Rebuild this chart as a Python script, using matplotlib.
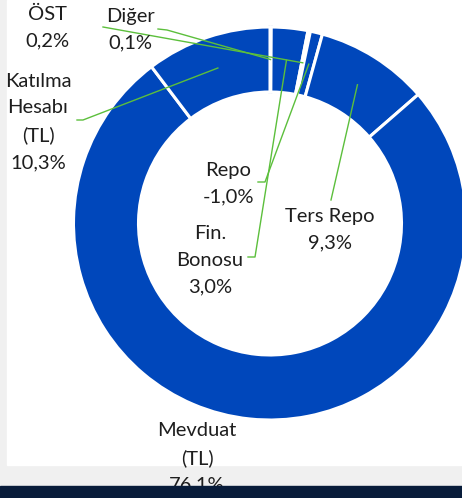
import numpy as np
import matplotlib.pyplot as plt
from matplotlib.patches import Rectangle

plt.rcParams['font.family'] = ['Lato', 'DejaVu Sans']

# data (clockwise from 12 o'clock)
names = ["Diğer", "Fin.\nBonosu", "ÖST", "Repo", "Ters Repo", "Mevduat\n(TL)", "Katılma\nHesabı\n(TL)"]
shares = [0.1, 3.0, 0.2, -1.0, 9.3, 76.1, 10.3]

blue = '#0047BB'
green = '#5CBF3C'
txt_col = '#1E1E1E'

W, H = 462, 498
fig = plt.figure(figsize=(W / 100, H / 100), dpi=100)
ax = fig.add_axes([0, 0, 1, 1])

def py(y):
    # pixel row -> data y
    return H - y

cx, cy = 270, py(223.5)
R, ring = 196.5, 65

# excel draws negative shares by their size
wedges, _ = ax.pie(np.abs(shares), radius=R, center=(cx, cy), startangle=90,
                   counterclock=False, colors=[blue] * len(shares),
                   wedgeprops=dict(width=ring, edgecolor='white', linewidth=2.2))
for w in wedges:
    w.set_zorder(2)
wedges[0].set_edgecolor('#C8D3EA')

ax.set_xlim(0, W)
ax.set_ylim(0, H)
ax.set_aspect('equal')
ax.axis('off')

# backgrounds
ax.add_patch(Rectangle((0, 0), W, H, color='#F0F0F0', zorder=0))
ax.add_patch(Rectangle((7, py(465)), W - 7, 465, color='white', zorder=0.5))
ax.add_patch(Rectangle((0, 0), W, py(486), color='#081C3A', zorder=10))

def mid_point(w):
    a = np.deg2rad((w.theta1 + w.theta2) / 2)
    r = R - ring / 2
    return cx + r * np.cos(a), cy + r * np.sin(a)

# label centre, leader start (pixel coords), optional short tail
layout = {
    "Diğer": ((130, 30), [(158, 29), (167, 30)]),
    "Fin.\nBonosu": ((210, 260), [(248, 257), (255, 257)]),
    "ÖST": ((47, 28), [(103, 27)]),
    "Repo": ((228, 184), [(258, 182), (265, 182)]),
    "Ters Repo": ((330, 230), [(331, 200)]),
    "Mevduat\n(TL)": ((197, 458), None),
    "Katılma\nHesabı\n(TL)": ((38, 122), [(77, 120), (83, 120)]),
}

for w, name, val in zip(wedges, names, shares):
    (lx, ly), lead = layout[name]
    label = name + "\n" + f"{val:.1f}".replace('.', ',') + "%"
    ax.text(lx, py(ly), label, ha='center', va='center', fontsize=14.5,
            color=txt_col, linespacing=1.68, zorder=6)
    if lead:
        mx, my = mid_point(w)
        xs = [p[0] for p in lead] + [mx]
        ys = [py(p[1]) for p in lead] + [my]
        ax.plot(xs, ys, color=green, lw=1, zorder=4)

fig.savefig('out.png', dpi=100)
